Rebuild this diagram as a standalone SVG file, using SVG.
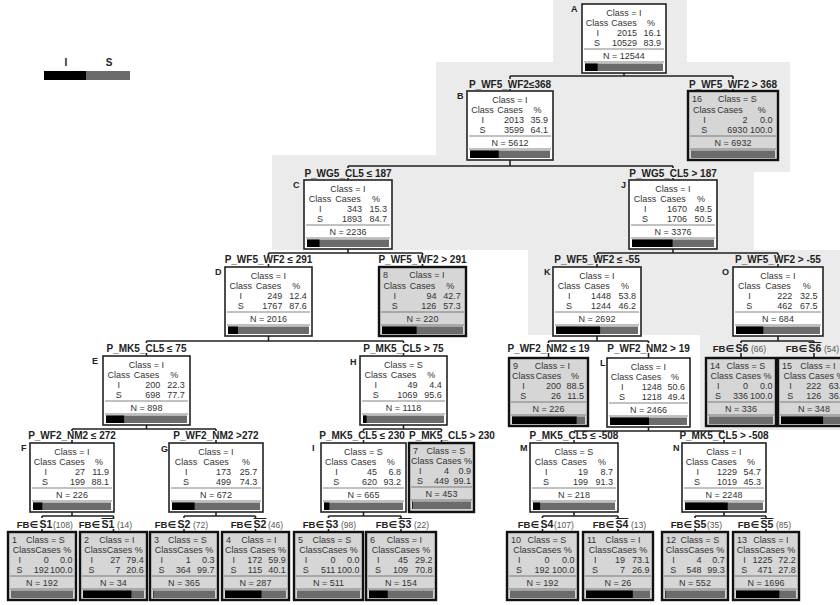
<svg xmlns="http://www.w3.org/2000/svg" width="840" height="605" viewBox="0 0 840 605">
<style>
.bg{fill:#ebebeb}
.bx{fill:#fff;stroke:#222;stroke-width:1.6}
.tb{fill:#d6d6d6;stroke:#111;stroke-width:2.4}
.t{font-family:"Liberation Sans",Arial,sans-serif;font-size:9px;fill:#333}
.c{text-anchor:middle}
.r{text-anchor:end}
.sep{stroke:#666;stroke-width:0.8}
.bk{fill:#000}
.gy{fill:#6b6b6b}
.lt{font-family:"Liberation Sans",Arial,sans-serif;font-size:9px;font-weight:bold;fill:#222}
.sl{font-family:"Liberation Sans",Arial,sans-serif;font-size:10px;font-weight:bold;fill:#222;text-anchor:middle}
.fb{font-family:"Liberation Sans","DejaVu Sans",sans-serif;font-size:9.5px;font-weight:bold;fill:#222}
.fs{font-family:"Liberation Sans",Arial,sans-serif;font-size:10.5px;font-weight:bold;fill:#222}
.pc{font-family:"Liberation Sans",Arial,sans-serif;font-size:8.5px;fill:#555}
.ol{stroke:#222;stroke-width:1}
.cn{stroke:#222;stroke-width:1.6;fill:none}
</style>
<path class="bg" d="M553,0 H687 V62 H790 V172 H754 V250 H840 V430 H700 V335 H528 V250 H272 V155 H436 V62 H553 Z"/>
<g id="legend">
<text class="sl" x="66" y="66">I</text>
<text class="sl" x="109" y="66">S</text>
<rect class="bk" x="44" y="71" width="42" height="9"/>
<rect class="gy" x="86" y="71" width="44" height="9"/>
</g>
<g id="connectors" class="cn">
<path d="M624,73 V76 M510,76 H733 M510,76 V79 M733,76 V79 M510,89 V91 M733,89 V91"/>
<path d="M510,160 V166 M348,166 H673 M348,166 V168 M673,166 V168 M348,178 V180 M673,178 V180"/>
<path d="M348,249 V253 M268.5,253 H422.5 M268.5,253 V255 M422.5,253 V255 M268.5,264 V267 M422.5,264 V267"/>
<path d="M673,249 V253 M597,253 H778 M597,253 V255 M778,253 V255 M597,264 V267 M778,264 V267"/>
<path d="M268.5,336 V341 M146.5,341 H403.5 M146.5,341 V343 M403.5,341 V343 M146.5,353 V356 M403.5,353 V356"/>
<path d="M597,336 V341 M548.5,341 H648.5 M548.5,341 V343 M648.5,341 V343 M548.5,353 V358 M648.5,353 V358"/>
<path d="M778,336 V341 M741,341 H814 M741,341 V343 M814,341 V343 M741,353 V358 M814,353 V358"/>
<path d="M146.5,425 V429 M72,429 H216 M72,429 V431 M216,429 V431 M72,440 V443 M216,440 V443"/>
<path d="M403.5,425 V429 M363.5,429 H441.5 M363.5,429 V431 M441.5,429 V431 M363.5,440 V443 M441.5,440 V443"/>
<path d="M648.5,427 V431 M574,431 H724 M574,440 V443 M724,440 V443"/>
<path d="M72,512 V516 M42,516 H113.5 M42,516 V518 M113.5,516 V518 M42,529 V532 M113.5,529 V532"/>
<path d="M216,512 V516 M184,516 H255.5 M184,516 V518 M255.5,516 V518 M184,529 V532 M255.5,529 V532"/>
<path d="M363.5,512 V516 M328.5,516 H401 M328.5,516 V518 M401,516 V518 M328.5,529 V532 M401,529 V532"/>
<path d="M574,512 V516 M542.5,516 H618 M542.5,516 V518 M618,516 V518 M542.5,529 V532 M618,529 V532"/>
<path d="M724,512 V516 M695,516 H766 M695,516 V518 M766,516 V518 M695,529 V532 M766,529 V532"/>
</g>
<g id="split-labels">
<text class="sl" x="510" y="88">P_WF5_WF2≤368</text>
<text class="sl" x="733" y="88">P_WF5_WF2 &gt; 368</text>
<text class="sl" x="348" y="177">P_WG5_CL5 ≤ 187</text>
<text class="sl" x="673" y="177">P_WG5_CL5 &gt; 187</text>
<text class="sl" x="268.5" y="263">P_WF5_WF2 ≤ 291</text>
<text class="sl" x="422.5" y="263">P_WF5_WF2 &gt; 291</text>
<text class="sl" x="597" y="263">P_WF5_WF2 ≤ -55</text>
<text class="sl" x="778" y="263">P_WF5_WF2 &gt; -55</text>
<text class="sl" x="146.5" y="352">P_MK5_CL5 ≤ 75</text>
<text class="sl" x="403.5" y="352">P_MK5_CL5 &gt; 75</text>
<text class="sl" x="548.5" y="352">P_WF2_NM2 ≤ 19</text>
<text class="sl" x="648.5" y="352">P_WF2_NM2 &gt; 19</text>
<text class="sl" x="72" y="439">P_WF2_NM2 ≤ 272</text>
<text class="sl" x="216" y="439">P_WF2_NM2 &gt;272</text>
<text class="sl" x="362" y="439">P_MK5_CL5 ≤ 230</text>
<text class="sl" x="452" y="439">P_MK5_CL5 &gt; 230</text>
<text class="sl" x="574" y="439">P_MK5_CL5 ≤ -508</text>
<text class="sl" x="724" y="439">P_MK5_CL5 &gt; -508</text>
</g>
<g id="fb-labels">
<text class="fb r" x="734" y="352">FB∈</text><text class="fs" x="735.6" y="352">S6</text><text class="pc" x="751" y="352">(66)</text>
<text class="fb r" x="807" y="352">FB∈</text><text class="fs" x="808.6" y="352">S6</text><line class="ol" x1="808.6" y1="342.5" x2="821.4" y2="342.5"/><text class="pc" x="824" y="352">(54)</text>
<text class="fb r" x="38" y="528">FB∈</text><text class="fs" x="39.6" y="528">S1</text><text class="pc" x="53" y="528">(108)</text>
<text class="fb r" x="100" y="528">FB∈</text><text class="fs" x="101.6" y="528">S1</text><line class="ol" x1="101.6" y1="518.5" x2="114.4" y2="518.5"/><text class="pc" x="117" y="528">(14)</text>
<text class="fb r" x="176" y="528">FB∈</text><text class="fs" x="177.6" y="528">S2</text><text class="pc" x="193" y="528">(72)</text>
<text class="fb r" x="252" y="528">FB∈</text><text class="fs" x="253.6" y="528">S2</text><line class="ol" x1="253.6" y1="518.5" x2="266.4" y2="518.5"/><text class="pc" x="268" y="528">(46)</text>
<text class="fb r" x="324" y="528">FB∈</text><text class="fs" x="325.6" y="528">S3</text><text class="pc" x="341" y="528">(98)</text>
<text class="fb r" x="397" y="528">FB∈</text><text class="fs" x="398.6" y="528">S3</text><line class="ol" x1="398.6" y1="518.5" x2="411.4" y2="518.5"/><text class="pc" x="414" y="528">(22)</text>
<text class="fb r" x="539" y="528">FB∈</text><text class="fs" x="540.6" y="528">S4</text><text class="pc" x="554" y="528">(107)</text>
<text class="fb r" x="614" y="528">FB∈</text><text class="fs" x="615.6" y="528">S4</text><line class="ol" x1="615.6" y1="518.5" x2="628.4" y2="518.5"/><text class="pc" x="631" y="528">(13)</text>
<text class="fb r" x="692" y="528">FB∈</text><text class="fs" x="693.6" y="528">S5</text><text class="pc" x="707" y="528">(35)</text>
<text class="fb r" x="759" y="528">FB∈</text><text class="fs" x="760.6" y="528">S5</text><line class="ol" x1="760.6" y1="518.5" x2="773.4" y2="518.5"/><text class="pc" x="776" y="528">(85)</text>
</g>
<g id="node-A" transform="translate(582,4)">
<text class="lt" x="-11" y="8">A</text>
<rect class="bx" width="84" height="69"/>
<text class="t c" x="42" y="12">Class = I</text>
<text class="t c" y="22"><tspan x="15">Class</tspan><tspan x="42">Cases</tspan><tspan x="69">%</tspan></text>
<text class="t r" y="32"><tspan x="17">I</tspan><tspan x="55">2015</tspan><tspan x="79">16.1</tspan></text>
<text class="t r" y="42"><tspan x="18">S</tspan><tspan x="55">10529</tspan><tspan x="79">83.9</tspan></text>
<line class="sep" x1="2" y1="45" x2="82" y2="45"/>
<text class="t c" x="42" y="55">N = 12544</text>
<line class="sep" x1="2" y1="58" x2="82" y2="58"/>
<rect class="gy" x="3" y="59.5" width="78" height="7.5"/><rect class="bk" x="3" y="59.5" width="12.6" height="7.5"/>
</g>
<g id="node-B" transform="translate(467,91)">
<text class="lt" x="-10" y="8">B</text>
<rect class="bx" width="86" height="69"/>
<text class="t c" x="43" y="12">Class = I</text>
<text class="t c" y="22"><tspan x="15.5">Class</tspan><tspan x="43">Cases</tspan><tspan x="70.5">%</tspan></text>
<text class="t r" y="32"><tspan x="17">I</tspan><tspan x="57">2013</tspan><tspan x="81">35.9</tspan></text>
<text class="t r" y="42"><tspan x="18.5">S</tspan><tspan x="57">3599</tspan><tspan x="81">64.1</tspan></text>
<line class="sep" x1="2" y1="45" x2="84" y2="45"/>
<text class="t c" x="43" y="55">N = 5612</text>
<line class="sep" x1="2" y1="58" x2="84" y2="58"/>
<rect class="gy" x="3" y="59.5" width="80" height="7.5"/><rect class="bk" x="3" y="59.5" width="28.7" height="7.5"/>
</g>
<g id="node-16" transform="translate(688,91)">
<rect class="tb" width="90" height="69"/>
<text class="t" x="4" y="11">16</text>
<text class="t c" x="49.5" y="11">Class = S</text>
<text class="t c" y="22"><tspan x="16.2">Class</tspan><tspan x="42">Cases</tspan><tspan x="73.8">%</tspan></text>
<text class="t r" y="32"><tspan x="17.7">I</tspan><tspan x="59.4">2</tspan><tspan x="84.6">0.0</tspan></text>
<text class="t r" y="42"><tspan x="19.2">S</tspan><tspan x="59.4">6930</tspan><tspan x="84.6">100.0</tspan></text>
<line class="sep" x1="2" y1="45" x2="88" y2="45"/>
<text class="t c" x="45" y="55">N = 6932</text>
<line class="sep" x1="2" y1="58" x2="88" y2="58"/>
<rect class="gy" x="3" y="59.5" width="84" height="7.5"/>
</g>
<g id="node-C" transform="translate(304,180)">
<text class="lt" x="-11" y="8">C</text>
<rect class="bx" width="88" height="69"/>
<text class="t c" x="44" y="12">Class = I</text>
<text class="t c" y="22"><tspan x="16">Class</tspan><tspan x="44">Cases</tspan><tspan x="72">%</tspan></text>
<text class="t r" y="32"><tspan x="17.5">I</tspan><tspan x="58">343</tspan><tspan x="83">15.3</tspan></text>
<text class="t r" y="42"><tspan x="19">S</tspan><tspan x="58">1893</tspan><tspan x="83">84.7</tspan></text>
<line class="sep" x1="2" y1="45" x2="86" y2="45"/>
<text class="t c" x="44" y="55">N = 2236</text>
<line class="sep" x1="2" y1="58" x2="86" y2="58"/>
<rect class="gy" x="3" y="59.5" width="82" height="7.5"/><rect class="bk" x="3" y="59.5" width="12.5" height="7.5"/>
</g>
<g id="node-J" transform="translate(629,180)">
<text class="lt" x="-8" y="8">J</text>
<rect class="bx" width="88" height="69"/>
<text class="t c" x="44" y="12">Class = I</text>
<text class="t c" y="22"><tspan x="16">Class</tspan><tspan x="44">Cases</tspan><tspan x="72">%</tspan></text>
<text class="t r" y="32"><tspan x="17.5">I</tspan><tspan x="58">1670</tspan><tspan x="83">49.5</tspan></text>
<text class="t r" y="42"><tspan x="19">S</tspan><tspan x="58">1706</tspan><tspan x="83">50.5</tspan></text>
<line class="sep" x1="2" y1="45" x2="86" y2="45"/>
<text class="t c" x="44" y="55">N = 3376</text>
<line class="sep" x1="2" y1="58" x2="86" y2="58"/>
<rect class="gy" x="3" y="59.5" width="82" height="7.5"/><rect class="bk" x="3" y="59.5" width="40.6" height="7.5"/>
</g>
<g id="node-D" transform="translate(225,267)">
<text class="lt" x="-10" y="8">D</text>
<rect class="bx" width="87" height="69"/>
<text class="t c" x="43.5" y="12">Class = I</text>
<text class="t c" y="22"><tspan x="15.7">Class</tspan><tspan x="43.5">Cases</tspan><tspan x="71.3">%</tspan></text>
<text class="t r" y="32"><tspan x="17">I</tspan><tspan x="57.4">249</tspan><tspan x="81.8">12.4</tspan></text>
<text class="t r" y="42"><tspan x="18.7">S</tspan><tspan x="57.4">1767</tspan><tspan x="81.8">87.6</tspan></text>
<line class="sep" x1="2" y1="45" x2="85" y2="45"/>
<text class="t c" x="43.5" y="55">N = 2016</text>
<line class="sep" x1="2" y1="58" x2="85" y2="58"/>
<rect class="gy" x="3" y="59.5" width="81" height="7.5"/><rect class="bk" x="3" y="59.5" width="10" height="7.5"/>
</g>
<g id="node-8" transform="translate(379,267)">
<rect class="tb" width="87" height="69"/>
<text class="t" x="4" y="11">8</text>
<text class="t c" x="47.9" y="11">Class = I</text>
<text class="t c" y="22"><tspan x="15.7">Class</tspan><tspan x="43.5">Cases</tspan><tspan x="71.3">%</tspan></text>
<text class="t r" y="32"><tspan x="17">I</tspan><tspan x="57.4">94</tspan><tspan x="81.8">42.7</tspan></text>
<text class="t r" y="42"><tspan x="18.7">S</tspan><tspan x="57.4">126</tspan><tspan x="81.8">57.3</tspan></text>
<line class="sep" x1="2" y1="45" x2="85" y2="45"/>
<text class="t c" x="43.5" y="55">N = 220</text>
<line class="sep" x1="2" y1="58" x2="85" y2="58"/>
<rect class="gy" x="3" y="59.5" width="81" height="7.5"/><rect class="bk" x="3" y="59.5" width="34.6" height="7.5"/>
</g>
<g id="node-K" transform="translate(553,267)">
<text class="lt" x="-9" y="8">K</text>
<rect class="bx" width="88" height="69"/>
<text class="t c" x="44" y="12">Class = I</text>
<text class="t c" y="22"><tspan x="16">Class</tspan><tspan x="44">Cases</tspan><tspan x="72">%</tspan></text>
<text class="t r" y="32"><tspan x="17.5">I</tspan><tspan x="58">1448</tspan><tspan x="83">53.8</tspan></text>
<text class="t r" y="42"><tspan x="19">S</tspan><tspan x="58">1244</tspan><tspan x="83">46.2</tspan></text>
<line class="sep" x1="2" y1="45" x2="86" y2="45"/>
<text class="t c" x="44" y="55">N = 2692</text>
<line class="sep" x1="2" y1="58" x2="86" y2="58"/>
<rect class="gy" x="3" y="59.5" width="82" height="7.5"/><rect class="bk" x="3" y="59.5" width="44.1" height="7.5"/>
</g>
<g id="node-O" transform="translate(733,267)">
<text class="lt" x="-11" y="8">O</text>
<rect class="bx" width="90" height="69"/>
<text class="t c" x="45" y="12">Class = I</text>
<text class="t c" y="22"><tspan x="16.2">Class</tspan><tspan x="45">Cases</tspan><tspan x="73.8">%</tspan></text>
<text class="t r" y="32"><tspan x="17.7">I</tspan><tspan x="59.4">222</tspan><tspan x="84.6">32.5</tspan></text>
<text class="t r" y="42"><tspan x="19.2">S</tspan><tspan x="59.4">462</tspan><tspan x="84.6">67.5</tspan></text>
<line class="sep" x1="2" y1="45" x2="88" y2="45"/>
<text class="t c" x="45" y="55">N = 684</text>
<line class="sep" x1="2" y1="58" x2="88" y2="58"/>
<rect class="gy" x="3" y="59.5" width="84" height="7.5"/><rect class="bk" x="3" y="59.5" width="27.3" height="7.5"/>
</g>
<g id="node-E" transform="translate(103,356)">
<text class="lt" x="-11" y="8">E</text>
<rect class="bx" width="87" height="69"/>
<text class="t c" x="43.5" y="12">Class = I</text>
<text class="t c" y="22"><tspan x="15.7">Class</tspan><tspan x="43.5">Cases</tspan><tspan x="71.3">%</tspan></text>
<text class="t r" y="32"><tspan x="17">I</tspan><tspan x="57.4">200</tspan><tspan x="81.8">22.3</tspan></text>
<text class="t r" y="42"><tspan x="18.7">S</tspan><tspan x="57.4">698</tspan><tspan x="81.8">77.7</tspan></text>
<line class="sep" x1="2" y1="45" x2="85" y2="45"/>
<text class="t c" x="43.5" y="55">N = 898</text>
<line class="sep" x1="2" y1="58" x2="85" y2="58"/>
<rect class="gy" x="3" y="59.5" width="81" height="7.5"/><rect class="bk" x="3" y="59.5" width="18.1" height="7.5"/>
</g>
<g id="node-H" transform="translate(360,356)">
<text class="lt" x="-10" y="9">H</text>
<rect class="bx" width="87" height="69"/>
<text class="t c" x="43.5" y="12">Class = S</text>
<text class="t c" y="22"><tspan x="15.7">Class</tspan><tspan x="43.5">Cases</tspan><tspan x="71.3">%</tspan></text>
<text class="t r" y="32"><tspan x="17">I</tspan><tspan x="57.4">49</tspan><tspan x="81.8">4.4</tspan></text>
<text class="t r" y="42"><tspan x="18.7">S</tspan><tspan x="57.4">1069</tspan><tspan x="81.8">95.6</tspan></text>
<line class="sep" x1="2" y1="45" x2="85" y2="45"/>
<text class="t c" x="43.5" y="55">N = 1118</text>
<line class="sep" x1="2" y1="58" x2="85" y2="58"/>
<rect class="gy" x="3" y="59.5" width="81" height="7.5"/><rect class="bk" x="3" y="59.5" width="3.6" height="7.5"/>
</g>
<g id="node-9" transform="translate(509,358)">
<rect class="tb" width="79" height="68"/>
<text class="t" x="4" y="11">9</text>
<text class="t c" x="43.5" y="11">Class = I</text>
<text class="t c" y="21"><tspan x="14.2">Class</tspan><tspan x="39.5">Cases</tspan><tspan x="66">%</tspan></text>
<text class="t r" y="31"><tspan x="15.7">I</tspan><tspan x="52.1">200</tspan><tspan x="75">88.5</tspan></text>
<text class="t r" y="41"><tspan x="17.2">S</tspan><tspan x="52.1">26</tspan><tspan x="75">11.5</tspan></text>
<line class="sep" x1="2" y1="44" x2="77" y2="44"/>
<text class="t c" x="39.5" y="54">N = 226</text>
<line class="sep" x1="2" y1="57" x2="77" y2="57"/>
<rect class="gy" x="3" y="58.5" width="73" height="7.5"/><rect class="bk" x="3" y="58.5" width="64.6" height="7.5"/>
</g>
<g id="node-L" transform="translate(607,358)">
<text class="lt" x="-7" y="8">L</text>
<rect class="bx" width="83" height="69"/>
<text class="t c" x="41.5" y="12">Class = I</text>
<text class="t c" y="22"><tspan x="15">Class</tspan><tspan x="41.5">Cases</tspan><tspan x="68">%</tspan></text>
<text class="t r" y="32"><tspan x="16.4">I</tspan><tspan x="54.8">1248</tspan><tspan x="78">50.6</tspan></text>
<text class="t r" y="42"><tspan x="17.9">S</tspan><tspan x="54.8">1218</tspan><tspan x="78">49.4</tspan></text>
<line class="sep" x1="2" y1="45" x2="81" y2="45"/>
<text class="t c" x="41.5" y="55">N = 2466</text>
<line class="sep" x1="2" y1="58" x2="81" y2="58"/>
<rect class="gy" x="3" y="59.5" width="77" height="7.5"/><rect class="bk" x="3" y="59.5" width="39" height="7.5"/>
</g>
<g id="node-14" transform="translate(706,358)">
<rect class="tb" width="70" height="68"/>
<text class="t" x="4" y="11">14</text>
<text class="t c" x="40" y="11">Class = S</text>
<text class="t c" x="35" y="21">Class Cases %</text>
<text class="t r" y="31"><tspan x="13.4">I</tspan><tspan x="42">0</tspan><tspan x="66.5">0.0</tspan></text>
<text class="t r" y="41"><tspan x="14.9">S</tspan><tspan x="42">336</tspan><tspan x="66.5">100.0</tspan></text>
<line class="sep" x1="2" y1="44" x2="68" y2="44"/>
<text class="t c" x="35" y="54">N = 336</text>
<line class="sep" x1="2" y1="57" x2="68" y2="57"/>
<rect class="gy" x="3" y="58.5" width="64" height="7.5"/>
</g>
<g id="node-15" transform="translate(778,358)">
<rect class="tb" width="72" height="68"/>
<text class="t" x="4" y="11">15</text>
<text class="t c" x="40" y="11">Class = I</text>
<text class="t c" x="36" y="21">Class Cases %</text>
<text class="t r" y="31"><tspan x="13.7">I</tspan><tspan x="43.2">222</tspan><tspan x="68.4">63.8</tspan></text>
<text class="t r" y="41"><tspan x="15.2">S</tspan><tspan x="43.2">126</tspan><tspan x="68.4">36.2</tspan></text>
<line class="sep" x1="2" y1="44" x2="70" y2="44"/>
<text class="t c" x="36" y="54">N = 348</text>
<line class="sep" x1="2" y1="57" x2="70" y2="57"/>
<rect class="gy" x="3" y="58.5" width="66" height="7.5"/><rect class="bk" x="3" y="58.5" width="42.1" height="7.5"/>
</g>
<g id="node-F" transform="translate(30,443)">
<text class="lt" x="-9" y="8">F</text>
<rect class="bx" width="84" height="69"/>
<text class="t c" x="42" y="12">Class = I</text>
<text class="t c" y="22"><tspan x="15">Class</tspan><tspan x="42">Cases</tspan><tspan x="69">%</tspan></text>
<text class="t r" y="32"><tspan x="17">I</tspan><tspan x="55">27</tspan><tspan x="79">11.9</tspan></text>
<text class="t r" y="42"><tspan x="18">S</tspan><tspan x="55">199</tspan><tspan x="79">88.1</tspan></text>
<line class="sep" x1="2" y1="45" x2="82" y2="45"/>
<text class="t c" x="42" y="55">N = 226</text>
<line class="sep" x1="2" y1="58" x2="82" y2="58"/>
<rect class="gy" x="3" y="59.5" width="78" height="7.5"/><rect class="bk" x="3" y="59.5" width="9.3" height="7.5"/>
</g>
<g id="node-G" transform="translate(169,443)">
<text class="lt" x="-8" y="9">G</text>
<rect class="bx" width="94" height="69"/>
<text class="t c" x="47" y="12">Class = I</text>
<text class="t c" y="22"><tspan x="17">Class</tspan><tspan x="47">Cases</tspan><tspan x="77">%</tspan></text>
<text class="t r" y="32"><tspan x="18.4">I</tspan><tspan x="62">173</tspan><tspan x="88.4">25.7</tspan></text>
<text class="t r" y="42"><tspan x="19.9">S</tspan><tspan x="62">499</tspan><tspan x="88.4">74.3</tspan></text>
<line class="sep" x1="2" y1="45" x2="92" y2="45"/>
<text class="t c" x="47" y="55">N = 672</text>
<line class="sep" x1="2" y1="58" x2="92" y2="58"/>
<rect class="gy" x="3" y="59.5" width="88" height="7.5"/><rect class="bk" x="3" y="59.5" width="22.6" height="7.5"/>
</g>
<g id="node-I" transform="translate(321,443)">
<text class="lt" x="-9" y="8">I</text>
<rect class="bx" width="85" height="69"/>
<text class="t c" x="42.5" y="12">Class = S</text>
<text class="t c" y="22"><tspan x="15.3">Class</tspan><tspan x="42.5">Cases</tspan><tspan x="69.7">%</tspan></text>
<text class="t r" y="32"><tspan x="16.8">I</tspan><tspan x="56">45</tspan><tspan x="80">6.8</tspan></text>
<text class="t r" y="42"><tspan x="18.3">S</tspan><tspan x="56">620</tspan><tspan x="80">93.2</tspan></text>
<line class="sep" x1="2" y1="45" x2="83" y2="45"/>
<text class="t c" x="42.5" y="55">N = 665</text>
<line class="sep" x1="2" y1="58" x2="83" y2="58"/>
<rect class="gy" x="3" y="59.5" width="79" height="7.5"/><rect class="bk" x="3" y="59.5" width="5.4" height="7.5"/>
</g>
<g id="node-7" transform="translate(409,443)">
<rect class="tb" width="65" height="69"/>
<text class="t" x="4" y="11">7</text>
<text class="t c" x="37" y="11">Class = S</text>
<text class="t c" x="32.5" y="21">Class Cases %</text>
<text class="t r" y="31"><tspan x="12.5">I</tspan><tspan x="40">4</tspan><tspan x="62">0.9</tspan></text>
<text class="t r" y="41"><tspan x="14">S</tspan><tspan x="40">449</tspan><tspan x="62">99.1</tspan></text>
<line class="sep" x1="2" y1="44" x2="63" y2="44"/>
<text class="t c" x="32.5" y="54">N = 453</text>
<line class="sep" x1="2" y1="57" x2="63" y2="57"/>
<rect class="gy" x="3" y="58.5" width="59" height="7.5"/><rect class="bk" x="3" y="58.5" width="0.6" height="7.5"/>
</g>
<g id="node-M" transform="translate(530,443)">
<text class="lt" x="-10" y="8">M</text>
<rect class="bx" width="88" height="69"/>
<text class="t c" x="44" y="12">Class = S</text>
<text class="t c" y="22"><tspan x="16">Class</tspan><tspan x="44">Cases</tspan><tspan x="72">%</tspan></text>
<text class="t r" y="32"><tspan x="17.5">I</tspan><tspan x="58">19</tspan><tspan x="83">8.7</tspan></text>
<text class="t r" y="42"><tspan x="19">S</tspan><tspan x="58">199</tspan><tspan x="83">91.3</tspan></text>
<line class="sep" x1="2" y1="45" x2="86" y2="45"/>
<text class="t c" x="44" y="55">N = 218</text>
<line class="sep" x1="2" y1="58" x2="86" y2="58"/>
<rect class="gy" x="3" y="59.5" width="82" height="7.5"/><rect class="bk" x="3" y="59.5" width="7.1" height="7.5"/>
</g>
<g id="node-N" transform="translate(682,443)">
<text class="lt" x="-9" y="8">N</text>
<rect class="bx" width="84" height="69"/>
<text class="t c" x="42" y="12">Class = I</text>
<text class="t c" y="22"><tspan x="15">Class</tspan><tspan x="42">Cases</tspan><tspan x="69">%</tspan></text>
<text class="t r" y="32"><tspan x="17">I</tspan><tspan x="55">1229</tspan><tspan x="79">54.7</tspan></text>
<text class="t r" y="42"><tspan x="18">S</tspan><tspan x="55">1019</tspan><tspan x="79">45.3</tspan></text>
<line class="sep" x1="2" y1="45" x2="82" y2="45"/>
<text class="t c" x="42" y="55">N = 2248</text>
<line class="sep" x1="2" y1="58" x2="82" y2="58"/>
<rect class="gy" x="3" y="59.5" width="78" height="7.5"/><rect class="bk" x="3" y="59.5" width="42.7" height="7.5"/>
</g>
<g id="node-1" transform="translate(8,532)">
<rect class="tb" width="68" height="68"/>
<text class="t" x="4" y="11">1</text>
<text class="t c" x="37.4" y="11">Class = S</text>
<text class="t c" x="34" y="21">ClassCases %</text>
<text class="t r" y="31"><tspan x="13">I</tspan><tspan x="40.8">0</tspan><tspan x="64.6">0.0</tspan></text>
<text class="t r" y="41"><tspan x="14.6">S</tspan><tspan x="40.8">192</tspan><tspan x="64.6">100.0</tspan></text>
<line class="sep" x1="2" y1="44" x2="66" y2="44"/>
<text class="t c" x="34" y="54">N = 192</text>
<line class="sep" x1="2" y1="57" x2="66" y2="57"/>
<rect class="gy" x="3" y="58.5" width="62" height="7.5"/>
</g>
<g id="node-2" transform="translate(80,532)">
<rect class="tb" width="67" height="68"/>
<text class="t" x="4" y="11">2</text>
<text class="t c" x="36.9" y="11">Class = I</text>
<text class="t c" x="33.5" y="21">ClassCases %</text>
<text class="t r" y="31"><tspan x="12.9">I</tspan><tspan x="40.2">27</tspan><tspan x="63.7">79.4</tspan></text>
<text class="t r" y="41"><tspan x="14.4">S</tspan><tspan x="40.2">7</tspan><tspan x="63.7">20.6</tspan></text>
<line class="sep" x1="2" y1="44" x2="65" y2="44"/>
<text class="t c" x="33.5" y="54">N = 34</text>
<line class="sep" x1="2" y1="57" x2="65" y2="57"/>
<rect class="gy" x="3" y="58.5" width="61" height="7.5"/><rect class="bk" x="3" y="58.5" width="48.4" height="7.5"/>
</g>
<g id="node-3" transform="translate(150,532)">
<rect class="tb" width="68" height="68"/>
<text class="t" x="4" y="11">3</text>
<text class="t c" x="37.4" y="11">Class = S</text>
<text class="t c" x="34" y="21">ClassCases %</text>
<text class="t r" y="31"><tspan x="13">I</tspan><tspan x="40.8">1</tspan><tspan x="64.6">0.3</tspan></text>
<text class="t r" y="41"><tspan x="14.6">S</tspan><tspan x="40.8">364</tspan><tspan x="64.6">99.7</tspan></text>
<line class="sep" x1="2" y1="44" x2="66" y2="44"/>
<text class="t c" x="34" y="54">N = 365</text>
<line class="sep" x1="2" y1="57" x2="66" y2="57"/>
<rect class="gy" x="3" y="58.5" width="62" height="7.5"/><rect class="bk" x="3" y="58.5" width="0.4" height="7.5"/>
</g>
<g id="node-4" transform="translate(222,532)">
<rect class="tb" width="67" height="68"/>
<text class="t" x="4" y="11">4</text>
<text class="t c" x="36.9" y="11">Class = I</text>
<text class="t c" x="33.5" y="21">Class Cases %</text>
<text class="t r" y="31"><tspan x="12.9">I</tspan><tspan x="40.2">172</tspan><tspan x="63.7">59.9</tspan></text>
<text class="t r" y="41"><tspan x="14.4">S</tspan><tspan x="40.2">115</tspan><tspan x="63.7">40.1</tspan></text>
<line class="sep" x1="2" y1="44" x2="65" y2="44"/>
<text class="t c" x="33.5" y="54">N = 287</text>
<line class="sep" x1="2" y1="57" x2="65" y2="57"/>
<rect class="gy" x="3" y="58.5" width="61" height="7.5"/><rect class="bk" x="3" y="58.5" width="36.5" height="7.5"/>
</g>
<g id="node-5" transform="translate(294,532)">
<rect class="tb" width="69" height="68"/>
<text class="t" x="4" y="11">5</text>
<text class="t c" x="38" y="11">Class = S</text>
<text class="t c" x="34.5" y="21">ClassCases %</text>
<text class="t r" y="31"><tspan x="13.2">I</tspan><tspan x="41.4">0</tspan><tspan x="65.6">0.0</tspan></text>
<text class="t r" y="41"><tspan x="14.7">S</tspan><tspan x="41.4">511</tspan><tspan x="65.6">100.0</tspan></text>
<line class="sep" x1="2" y1="44" x2="67" y2="44"/>
<text class="t c" x="34.5" y="54">N = 511</text>
<line class="sep" x1="2" y1="57" x2="67" y2="57"/>
<rect class="gy" x="3" y="58.5" width="63" height="7.5"/>
</g>
<g id="node-6" transform="translate(366,532)">
<rect class="tb" width="70" height="68"/>
<text class="t" x="4" y="11">6</text>
<text class="t c" x="38.5" y="11">Class = I</text>
<text class="t c" x="35" y="21">ClassCases %</text>
<text class="t r" y="31"><tspan x="13.4">I</tspan><tspan x="42">45</tspan><tspan x="66.5">29.2</tspan></text>
<text class="t r" y="41"><tspan x="14.9">S</tspan><tspan x="42">109</tspan><tspan x="66.5">70.8</tspan></text>
<line class="sep" x1="2" y1="44" x2="68" y2="44"/>
<text class="t c" x="35" y="54">N = 154</text>
<line class="sep" x1="2" y1="57" x2="68" y2="57"/>
<rect class="gy" x="3" y="58.5" width="64" height="7.5"/><rect class="bk" x="3" y="58.5" width="18.7" height="7.5"/>
</g>
<g id="node-10" transform="translate(507,532)">
<rect class="tb" width="71" height="68"/>
<text class="t" x="4" y="11">10</text>
<text class="t c" x="40" y="11">Class = S</text>
<text class="t c" x="35.5" y="21">ClassCases %</text>
<text class="t r" y="31"><tspan x="13.6">I</tspan><tspan x="42.6">0</tspan><tspan x="67.5">0.0</tspan></text>
<text class="t r" y="41"><tspan x="15.1">S</tspan><tspan x="42.6">192</tspan><tspan x="67.5">100.0</tspan></text>
<line class="sep" x1="2" y1="44" x2="69" y2="44"/>
<text class="t c" x="35.5" y="54">N = 192</text>
<line class="sep" x1="2" y1="57" x2="69" y2="57"/>
<rect class="gy" x="3" y="58.5" width="65" height="7.5"/>
</g>
<g id="node-11" transform="translate(583,532)">
<rect class="tb" width="70" height="68"/>
<text class="t" x="4" y="11">11</text>
<text class="t c" x="40" y="11">Class = I</text>
<text class="t c" x="35" y="21">ClassCases %</text>
<text class="t r" y="31"><tspan x="13.4">I</tspan><tspan x="42">19</tspan><tspan x="66.5">73.1</tspan></text>
<text class="t r" y="41"><tspan x="14.9">S</tspan><tspan x="42">7</tspan><tspan x="66.5">26.9</tspan></text>
<line class="sep" x1="2" y1="44" x2="68" y2="44"/>
<text class="t c" x="35" y="54">N = 26</text>
<line class="sep" x1="2" y1="57" x2="68" y2="57"/>
<rect class="gy" x="3" y="58.5" width="64" height="7.5"/><rect class="bk" x="3" y="58.5" width="46.8" height="7.5"/>
</g>
<g id="node-12" transform="translate(662,532)">
<rect class="tb" width="66" height="68"/>
<text class="t" x="4" y="11">12</text>
<text class="t c" x="38" y="11">Class = S</text>
<text class="t c" x="33" y="21">ClassCases %</text>
<text class="t r" y="31"><tspan x="12.7">I</tspan><tspan x="39.6">4</tspan><tspan x="62.7">0.7</tspan></text>
<text class="t r" y="41"><tspan x="14.2">S</tspan><tspan x="39.6">548</tspan><tspan x="62.7">99.3</tspan></text>
<line class="sep" x1="2" y1="44" x2="64" y2="44"/>
<text class="t c" x="33" y="54">N = 552</text>
<line class="sep" x1="2" y1="57" x2="64" y2="57"/>
<rect class="gy" x="3" y="58.5" width="60" height="7.5"/><rect class="bk" x="3" y="58.5" width="0.5" height="7.5"/>
</g>
<g id="node-13" transform="translate(733,532)">
<rect class="tb" width="66" height="68"/>
<text class="t" x="4" y="11">13</text>
<text class="t c" x="38" y="11">Class = I</text>
<text class="t c" x="33" y="21">ClassCases %</text>
<text class="t r" y="31"><tspan x="12.7">I</tspan><tspan x="39.6">1225</tspan><tspan x="62.7">72.2</tspan></text>
<text class="t r" y="41"><tspan x="14.2">S</tspan><tspan x="39.6">471</tspan><tspan x="62.7">27.8</tspan></text>
<line class="sep" x1="2" y1="44" x2="64" y2="44"/>
<text class="t c" x="33" y="54">N = 1696</text>
<line class="sep" x1="2" y1="57" x2="64" y2="57"/>
<rect class="gy" x="3" y="58.5" width="60" height="7.5"/><rect class="bk" x="3" y="58.5" width="43.3" height="7.5"/>
</g>
</svg>
